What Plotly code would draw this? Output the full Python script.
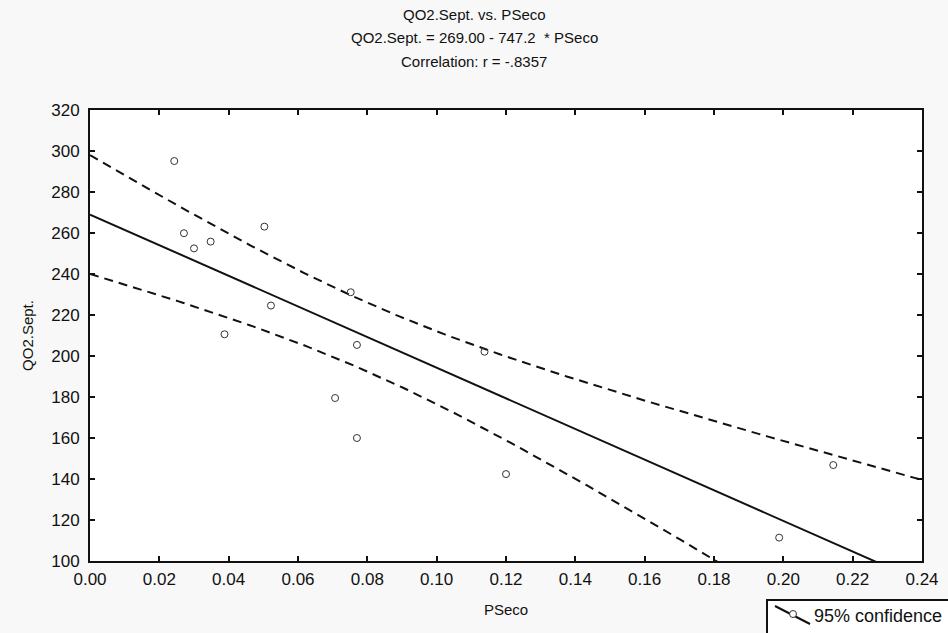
import numpy as np
import plotly.graph_objects as go

# Data
pseco = [0.0243, 0.0271, 0.0300, 0.0348, 0.0388, 0.0503, 0.0522, 0.0707,
         0.0752, 0.0770, 0.0770, 0.1138, 0.1200, 0.1988, 0.2144]
qo2 = [295.1, 259.9, 252.5, 255.8, 210.6, 263.1, 224.6, 179.5,
       231.1, 205.4, 160.0, 202.1, 142.4, 111.4, 146.8]
intercept = 269.00
slope = -747.2
t_crit = 2.160  # t(0.975, n-2=13)

x_tick_vals = [0.00, 0.02, 0.04, 0.06, 0.08, 0.10, 0.12, 0.14, 0.16, 0.18, 0.20, 0.22, 0.24]
y_tick_vals = [100, 120, 140, 160, 180, 200, 220, 240, 260, 280, 300, 320]

x = np.array(pseco)
y = np.array(qo2)
n = len(x)
resid = y - (intercept + slope * x)
s = np.sqrt(np.sum(resid ** 2) / (n - 2))
xbar = x.mean()
sxx = np.sum((x - xbar) ** 2)
xs = np.linspace(0, 0.24, 200)
fit = intercept + slope * xs
hw = t_crit * s * np.sqrt(1.0 / n + (xs - xbar) ** 2 / sxx)

fig = go.Figure()
fig.add_trace(go.Scatter(x=xs, y=fit, mode="lines", line=dict(color="#111", width=2),
                         showlegend=False, hoverinfo="skip"))
fig.add_trace(go.Scatter(x=xs, y=fit + hw, mode="lines",
                         line=dict(color="#111", width=2, dash="9px,6px"),
                         showlegend=False, hoverinfo="skip"))
fig.add_trace(go.Scatter(x=xs, y=fit - hw, mode="lines",
                         line=dict(color="#111", width=2, dash="9px,6px"),
                         showlegend=False, hoverinfo="skip"))
fig.add_trace(go.Scatter(x=pseco, y=qo2, mode="markers",
                         marker=dict(symbol="circle-open", size=7, color="#333",
                                     line=dict(width=1)),
                         showlegend=False))

L, R, T, B = 90, 922, 110, 561
W, H = R - L, B - T


def px(v):
    return (v - L) / W


def py(v):
    return (B - v) / H


font = "Liberation Sans, Arial, sans-serif"
titles = ["QO2.Sept. vs. PSeco", "QO2.Sept. = 269.00 - 747.2  * PSeco",
          "Correlation: r = -.8357"]
title_px = [15, 38, 62]
for t, yy in zip(titles, title_px):
    fig.add_annotation(text=t, xref="paper", yref="paper",
                       x=px(474), y=py(yy),
                       xanchor="center", yanchor="middle", showarrow=False,
                       font=dict(family=font, size=15, color="#111"))

# Manual legend box (partly cut off at the bottom edge, as in the reference)
fig.add_shape(type="rect", xref="paper", yref="paper",
              x0=px(767), x1=px(952), y0=py(640), y1=py(600),
              line=dict(color="#111", width=2), fillcolor="white", layer="above")
fig.add_shape(type="line", xref="paper", yref="paper",
              x0=px(775), y0=py(606), x1=px(810), y1=py(624),
              line=dict(color="#111", width=2), layer="above")
fig.add_shape(type="circle", xref="paper", yref="paper",
              x0=px(789.5), x1=px(796.5), y0=py(617.5), y1=py(610.5),
              line=dict(color="#333", width=1), fillcolor="white", layer="above")
fig.add_annotation(text="95% confidence", xref="paper", yref="paper",
                   x=px(812), y=py(616), xanchor="left", yanchor="middle",
                   showarrow=False, font=dict(family=font, size=18, color="#111"))

axis_common = dict(showgrid=False, zeroline=False, showline=True, linecolor="#111",
                   linewidth=2, mirror="ticks", ticks="inside", ticklen=5,
                   tickwidth=2, tickcolor="#111",
                   tickfont=dict(family=font, size=17, color="#111"))

fig.update_layout(
    width=948, height=633,
    margin=dict(l=L, r=948 - R, t=T, b=633 - B, autoexpand=False),
    paper_bgcolor="#f8f8f8", plot_bgcolor="white",
    xaxis=dict(range=[0, 0.24], tickvals=x_tick_vals, tickformat=".2f",
               ticklabelstandoff=2,
               title=dict(text="PSeco", font=dict(family=font, size=15, color="#111"),
                          standoff=16), **axis_common),
    yaxis=dict(range=[100, 320], tickvals=y_tick_vals, ticklabelstandoff=5,
               title=dict(text="QO2.Sept.", font=dict(family=font, size=15, color="#111"),
                          standoff=14), **axis_common),
    showlegend=False,
)
fig.write_html("out.html")
